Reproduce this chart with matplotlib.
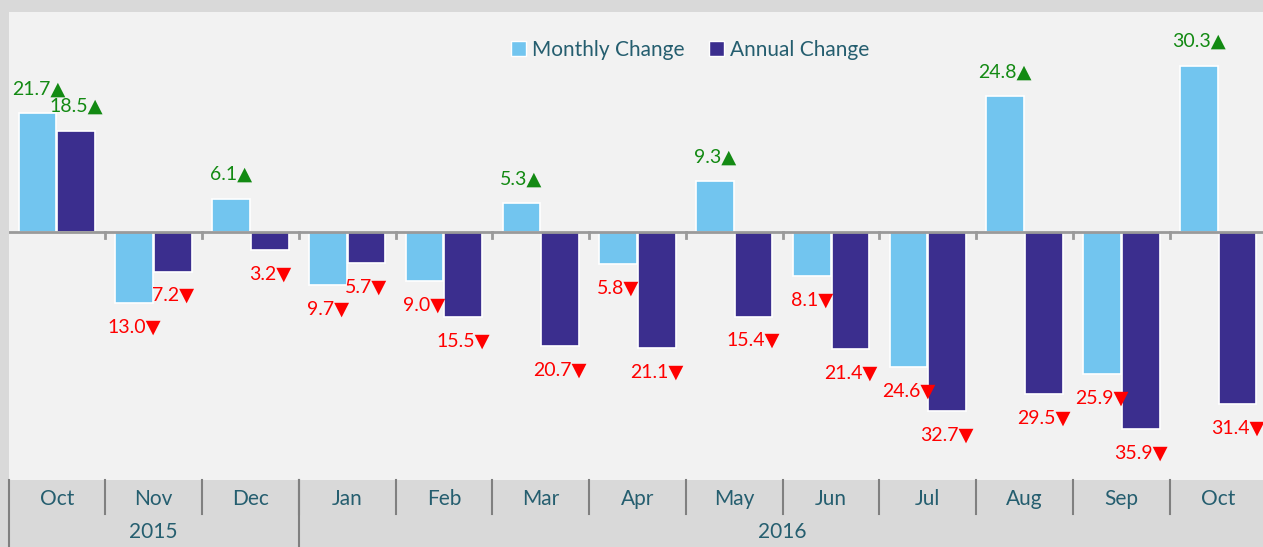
import numpy as np
import matplotlib
matplotlib.use('Agg')
import matplotlib.pyplot as plt
from matplotlib.patches import Patch

plt.rcParams['font.family'] = ['Lato', 'DejaVu Sans']

# 数据
months = ['Oct', 'Nov', 'Dec', 'Jan', 'Feb', 'Mar', 'Apr', 'May', 'Jun', 'Jul', 'Aug', 'Sep', 'Oct']
years = ['2015', '2016']
year_spans = [(0, 2), (3, 12)]  # 每个年份覆盖的月份下标
monthly = [21.7, -13.0, 6.1, -9.7, -9.0, 5.3, -5.8, 9.3, -8.1, -24.6, 24.8, -25.9, 30.3]
annual = [18.5, -7.2, -3.2, -5.7, -15.5, -20.7, -21.1, -15.4, -21.4, -32.7, -29.5, -35.9, -31.4]

c_month = '#72c5ef'
c_annual = '#3b2e8e'
c_text = '#255e6f'
c_up = '#138a13'
c_down = '#ff0000'

fig = plt.figure(figsize=(12.63, 5.47), dpi=100, facecolor='#d9d9d9')
# 右侧被裁掉一点，所以坐标区略超出画布
ax = fig.add_axes([8.5 / 1263, 67 / 547, 1258 / 1263, 468 / 547])
ax.set_facecolor('#f2f2f2')

x = np.arange(len(months))
w = 0.39
ax.bar(x - 0.2, monthly, w, color=c_month, edgecolor='white', linewidth=1.2, zorder=3)
ax.bar(x + 0.2, annual, w, color=c_annual, edgecolor='white', linewidth=1.2, zorder=3)
ax.axhline(0, color='#9a9a9a', lw=2, zorder=4)

ax.set_xlim(-0.5, 12.5)
ax.set_ylim(-45.2, 40.1)
ax.set_xticks([])
ax.set_yticks([])
for s in ax.spines.values():
    s.set_visible(False)

# 零线上的小刻度
for i in range(len(months) - 1):
    ax.plot([i + 0.5, i + 0.5], [0, -1.1], color='#9a9a9a', lw=2, zorder=4)

# 数值标签
off = 4.4
for series, dx in ((monthly, -0.2), (annual, 0.2)):
    for i, v in enumerate(series):
        xi = i + dx
        ha = 'center'
        if i == 0 and dx < 0:
            xi, ha = -0.46, 'left'
        if v >= 0:
            ax.text(xi, v + off, f'{v:.1f}\u25B2', ha=ha, va='center', color=c_up, fontsize=14, zorder=5)
        else:
            ax.text(xi, v - off, f'{-v:.1f}\u25BC', ha=ha, va='center', color=c_down, fontsize=14, zorder=5)

# 图例
handles = [Patch(facecolor=c_month, edgecolor='white', label='Monthly Change'),
           Patch(facecolor=c_annual, edgecolor='white', label='Annual Change')]
leg = ax.legend(handles=handles, loc='center', bbox_to_anchor=(0.542, 0.919), ncol=2, frameon=False,
                fontsize=15, handlelength=0.7, handleheight=0.7, handletextpad=0.3, columnspacing=1.2)
for t in leg.get_texts():
    t.set_color(c_text)

# 两级横轴
tr = ax.get_xaxis_transform()
for i, m in enumerate(months):
    ax.text(i, -0.041, m, transform=tr, ha='center', va='center', color=c_text, fontsize=15, clip_on=False)
for i in range(len(months) - 1):
    ax.plot([i + 0.5, i + 0.5], [0, -0.072], transform=tr, color='#808080', lw=1.5, clip_on=False)
for (a, b), yr in zip(year_spans, years):
    ax.plot([a - 0.5, a - 0.5], [0, -0.15], transform=tr, color='#808080', lw=1.5, clip_on=False)
    ax.text((a + b) / 2, -0.111, yr, transform=tr, ha='center', va='center', color=c_text, fontsize=15, clip_on=False)

fig.savefig('out.png', dpi=100, facecolor=fig.get_facecolor())
